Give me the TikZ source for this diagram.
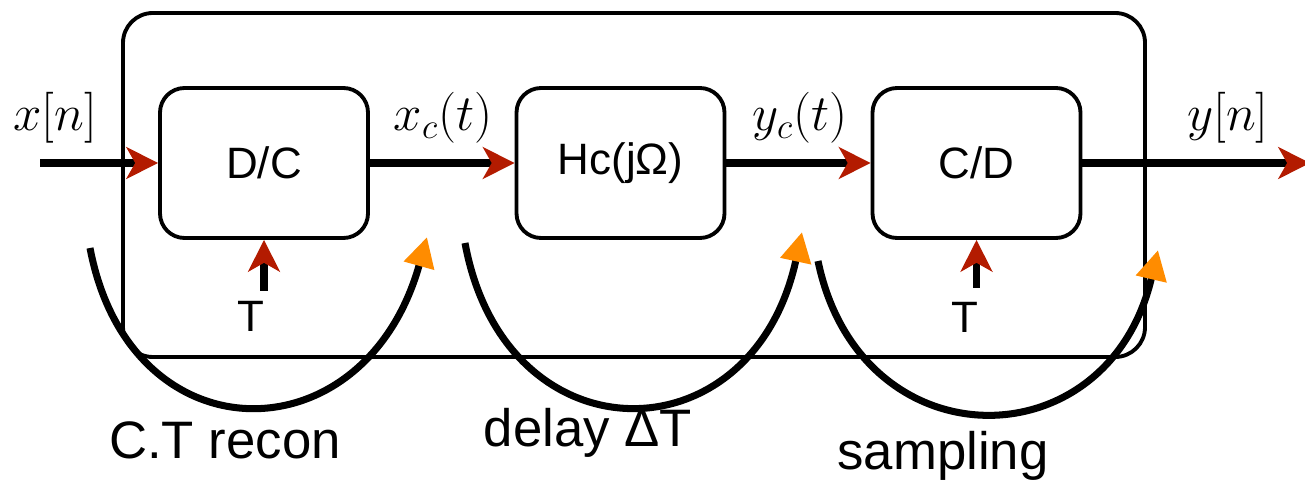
\RequirePackage{fix-cm}
\documentclass[tikz,border=0pt]{standalone}
\usepackage{fontspec}
\setmainfont{Liberation Sans}
\usepackage{amsmath}
\usetikzlibrary{arrows.meta}

\definecolor{tipred}{HTML}{B31B00}
\definecolor{tiporange}{HTML}{FF8C00}

\tikzset{
	every node/.style={font=\fontsize{25}{29}\selectfont},
	blk/.style={draw, rectangle, rounded corners=14pt, line width=2.2pt, minimum width=4.16cm, minimum height=3cm},
	sig/.style={line width=4pt, -{Stealth[length=18pt, width=18pt, inset=5pt, color=tipred]}},
	swing/.style={line width=4pt, -{Triangle[length=17pt, width=17pt, color=tiporange]}},
	mlabel/.style={font=\fontsize{29}{33}\selectfont},
	caplabel/.style={font=\fontsize{30}{34}\selectfont}
}

\begin{document}
\begin{tikzpicture}
			\useasboundingbox (0,0) rectangle (26.1,9.64);
			% outer frame
			\node[draw, rectangle, rounded corners=17pt, line width=2.2pt, minimum width=20.44cm, minimum height=6.88cm] (frame)at(12.68, 5.94) {};
			% blocks
			\node[blk] (dc)at(5.28, 6.38) {D/C};
			\node[blk] (hc)at(12.41, 6.38) {Hc(jΩ)};
			\node[blk] (cd)at(19.53, 6.38) {C/D};
			\coordinate (xin) at (0.8, 6.38);
			\coordinate (yout) at (26.2, 6.38);
			\coordinate (t1) at (5.28, 3.82);
			\coordinate (t2) at (19.53, 3.88);
			% signal path
			\draw[sig] (xin) -- (dc);
			\draw[sig] (dc) -- (hc);
			\draw[sig] (hc) -- (cd);
			\draw[sig] (cd) -- (yout);
			\draw[sig] (t1) -- (dc.south);
			\draw[sig] (t2) -- (cd.south);
			% signal labels
			\node[mlabel] (xn)at(1.1, 7.28) {$x[n]$};
			\node[mlabel] (xct)at(8.86, 7.28) {$x_c(t)$};
			\node[mlabel] (yct)at(16.0, 7.28) {$y_c(t)$};
			\node[mlabel] (yn)at(24.56, 7.28) {$y[n]$};
			\node (T1)at(5.02, 3.32) {T};
			\node (T2)at(19.3, 3.3) {T};
			% swings
			\coordinate (a1) at (1.8, 4.68);
			\coordinate (b1) at (8.54, 4.9);
			\coordinate (a2) at (9.3, 4.78);
			\coordinate (b2) at (16.04, 5.0);
			\coordinate (a3) at (16.36, 4.42);
			\coordinate (b3) at (23.16, 4.64);
			\draw[swing] (a1) .. controls (2.6, 0.45) and (7.3, 0.45) .. (b1);
			\draw[swing] (a2) .. controls (10.1, 0.42) and (15.05, 0.42) .. (b2);
			\draw[swing] (a3) .. controls (17.2, 0.36) and (22.16, 0.36) .. (b3);
			\node[caplabel] (recon)at(4.5, 0.84) {C.T recon};
			\node[caplabel] (delay)at(11.76, 0.98) {delay ΔT};
			\node[caplabel] (samp)at(18.86, 0.52) {sampling};
\end{tikzpicture}
\end{document}
